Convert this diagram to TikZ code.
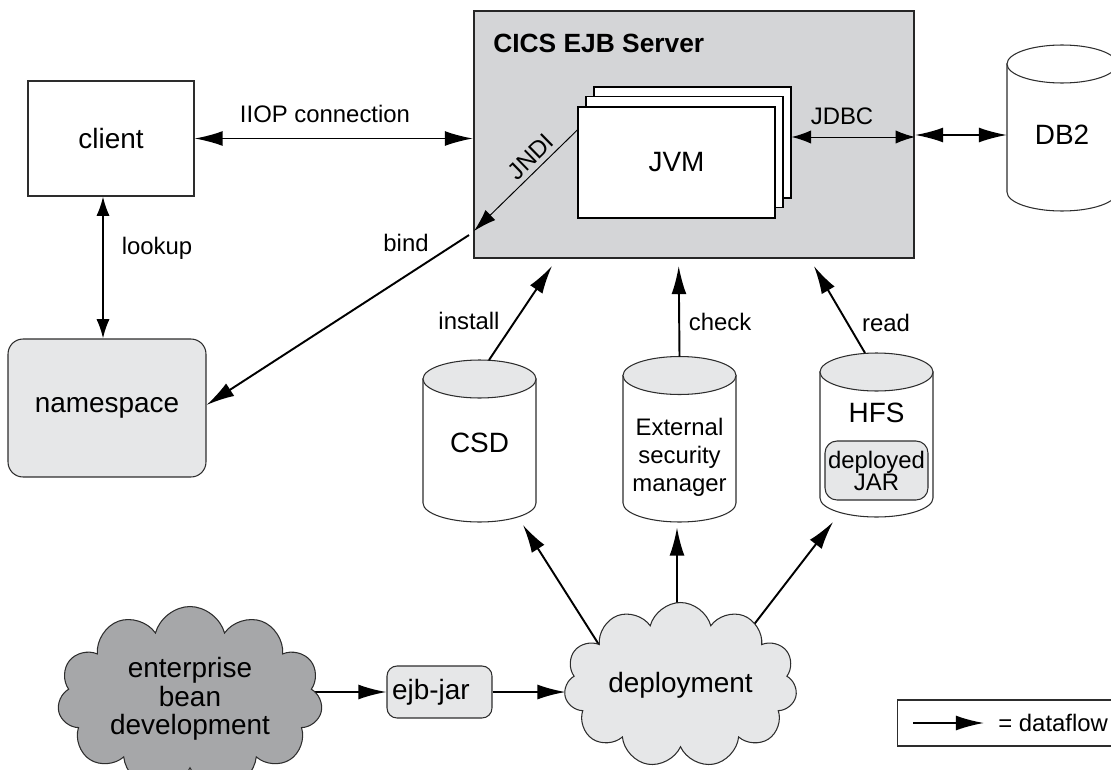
\documentclass[tikz,border=0pt]{standalone}
\usepackage{fontspec}
\setmainfont{Liberation Sans}
\usetikzlibrary{shapes.symbols,arrows.meta,calc,backgrounds}
\definecolor{lightfill}{RGB}{230,231,232}
\definecolor{srvfill}{RGB}{212,213,215}
\definecolor{darkfill}{RGB}{166,167,169}
\definecolor{edge}{RGB}{45,45,45}
\newcommand\dbcyl[6]{%
  \filldraw[cylline, fill=white] (#2-#5,#3) -- (#2-#5,#4)
     arc[start angle=180, end angle=360, x radius=#5, y radius=19] -- (#2+#5,#3) -- cycle;
  \filldraw[cylline, fill=#6] (#2,#3) ellipse [x radius=#5, y radius=19];
  \coordinate (#1-top) at (#2,#3+19);
  \coordinate (#1-bot) at (#2,#4-19);
}
\tikzset{
  bigfont/.style={font=\fontsize{15.9}{16.4}\selectfont},
  lblfont/.style={font=\fontsize{13.6}{15.9}\selectfont},
  cylline/.style={draw=edge, line width=0.6pt},
  thinbox/.style={draw=edge, line width=0.6pt},
  jvmbox/.style={draw=black, line width=0.8pt, fill=white, minimum width=3.94cm, minimum height=2.22cm, inner sep=0pt},
  flow/.style={line width=1.1pt, -{Latex[length=16pt,width=8.5pt]}},
  flowtwo/.style={line width=1.1pt, {Latex[length=16pt,width=8.5pt]}-{Latex[length=16pt,width=8.5pt]}},
  smallflowtwo/.style={line width=1.1pt, {Latex[length=11pt,width=7.5pt]}-{Latex[length=11pt,width=7.5pt]}},
  thinflow/.style={line width=0.55pt, -{Latex[length=13pt,width=8pt]}},
  thinflowtwo/.style={line width=0.55pt, {Latex[length=11pt,width=7.5pt]}-{Latex[length=11pt,width=7.5pt]}},
  puffy/.style={cloud, cloud puffs=11, cloud ignores aspect, draw=edge, line width=0.6pt, inner sep=0pt}
}
\begin{document}
\begin{tikzpicture}[x=0.02cm,y=0.02cm]
\useasboundingbox (0,0) rectangle (1111,769);
\clip (0,0) rectangle (1111,769);

% server
\node[draw=black!85, line width=1.2pt, fill=srvfill, minimum width=8.8cm, minimum height=4.94cm, inner sep=0pt] (server) at (694,634.5) {};
\node[anchor=west, inner sep=0pt, font=\bfseries\fontsize{15}{18}\selectfont] (title) at (493,726) {CICS EJB Server};
\node[jvmbox] (jvm3) at (692.5,626.5) {};
\node[jvmbox] (jvm2) at (684.5,617) {};
\node[jvmbox, bigfont] (jvm1) at (676.5,606.5) {JVM};

% client, namespace
\node[thinbox, fill=white, minimum width=3.32cm, minimum height=2.3cm, bigfont] (client) at (111,630.5) {client};
\node[thinbox, fill=lightfill, rounded corners=0.3cm, minimum width=3.96cm, minimum height=2.76cm, bigfont] (ns) at (107,361) {namespace};

% DB2
\dbcyl{db2}{1062}{705}{577}{55}{white}
\coordinate (db2-left) at (1007,634);
\node[bigfont] (db2text) at (1062,634) {DB2};

% cylinders
\dbcyl{csd}{479.5}{390}{266}{56.5}{lightfill}
\dbcyl{esm}{679.5}{393.5}{266}{56.5}{lightfill}
\dbcyl{hfs}{876.5}{397}{271}{56.5}{lightfill}
\node[bigfont] (csdtext) at (479.5,326) {CSD};
\node[lblfont, align=center] (esmtext) at (679.5,312) {External\\security\\manager};
\node[bigfont] (hfstext) at (876.5,356) {HFS};
\node[thinbox, fill=lightfill, rounded corners=0.24cm, minimum width=2.06cm, minimum height=1.18cm, inner sep=1pt, align=center, font=\fontsize{13.6}{12.5}\selectfont] (jar) at (876.5,298.5) {deployed\\JAR};

% clouds
\node[puffy, fill=lightfill, minimum width=4.66cm, minimum height=3.3cm, bigfont] (deploy) at (680.5,84) {deployment};
\node[puffy, fill=darkfill, minimum width=5.3cm, minimum height=3.7cm, align=center, font=\fontsize{15.9}{16.2}\selectfont] (ent) at (190,70) {enterprise\\bean\\development};
\node[thinbox, fill=lightfill, rounded corners=0.2cm, minimum width=2.1cm, minimum height=1.04cm, inner xsep=0.1cm, text width=1.9cm, align=left, bigfont] (ejb) at (439.5,77) {ejb-jar};

% connectors
\draw[flowtwo] (client.east) -- (client.east -| server.west);
\node[lblfont] (iiop) at (325,655) {IIOP connection};
\draw[smallflowtwo] ([xshift=-0.16cm]client.south) -- ([xshift=-0.16cm]client.south |- ns.north);
\node[lblfont] (lookup) at (157,521) {lookup};
\draw[flow] ([shift={(-0.08cm,0.48cm)}]server.south west) -- ([yshift=0.06cm]ns.east);
\node[lblfont] (bind) at (406,526) {bind};
\draw[thinflow] ([yshift=0.65cm]jvm1.west) -- ([shift={(0.02cm,0.56cm)}]server.south west)
   node[pos=0.36, sloped, above, inner sep=2.5pt, lblfont] (jndi) {JNDI};
\draw[thinflowtwo] ([yshift=0.11cm]jvm3.east) -- ([yshift=0.11cm]jvm3.east -| server.east);
\node[lblfont] (jdbc) at (842,653) {JDBC};
\draw[flowtwo] (db2-left -| server.east) -- (db2-left);

\draw[flow] ([xshift=0.19cm]csd-top) -- ([shift={(1.58cm,-0.14cm)}]server.south west);
\node[lblfont] (install) at (469,448) {install};
\draw[flow] (esm-top) -- ([shift={(4.115cm,-0.14cm)}]server.south west);
\node[lblfont] (check) at (720,447) {check};
\draw[flow] ([xshift=-0.23cm]hfs-top) -- ([shift={(6.82cm,-0.14cm)}]server.south west);
\node[lblfont] (read) at (886,446) {read};

\begin{scope}[on background layer]
\draw[flow] ([shift={(-1.5cm,0.6cm)}]deploy.center) -- ([shift={(0.87cm,-0.06cm)}]csd-bot);
\draw[flow] ([shift={(-0.07cm,0.6cm)}]deploy.center) -- ([shift={(-0.05cm,-0.11cm)}]esm-bot);
\draw[flow] ([shift={(1.0cm,0.6cm)}]deploy.center) -- ([shift={(-0.87cm,-0.1cm)}]hfs-bot);
\draw[flow] (ent.center |- ejb.west) -- (ejb.west);
\end{scope}
\draw[flow] (ejb.east) -- (ejb.east -| deploy.west);

% legend
\node[thinbox, minimum width=4.4cm, minimum height=0.92cm, inner sep=0pt] (legend) at (1007,46) {};
\coordinate (lgA) at (913,46);
\coordinate (lgB) at (984,46);
\draw[flow] (lgA) -- (lgB);
\node[lblfont, anchor=west, inner sep=0pt] (lgtext) at (998,46) {= dataflow};
\end{tikzpicture}
\end{document}
